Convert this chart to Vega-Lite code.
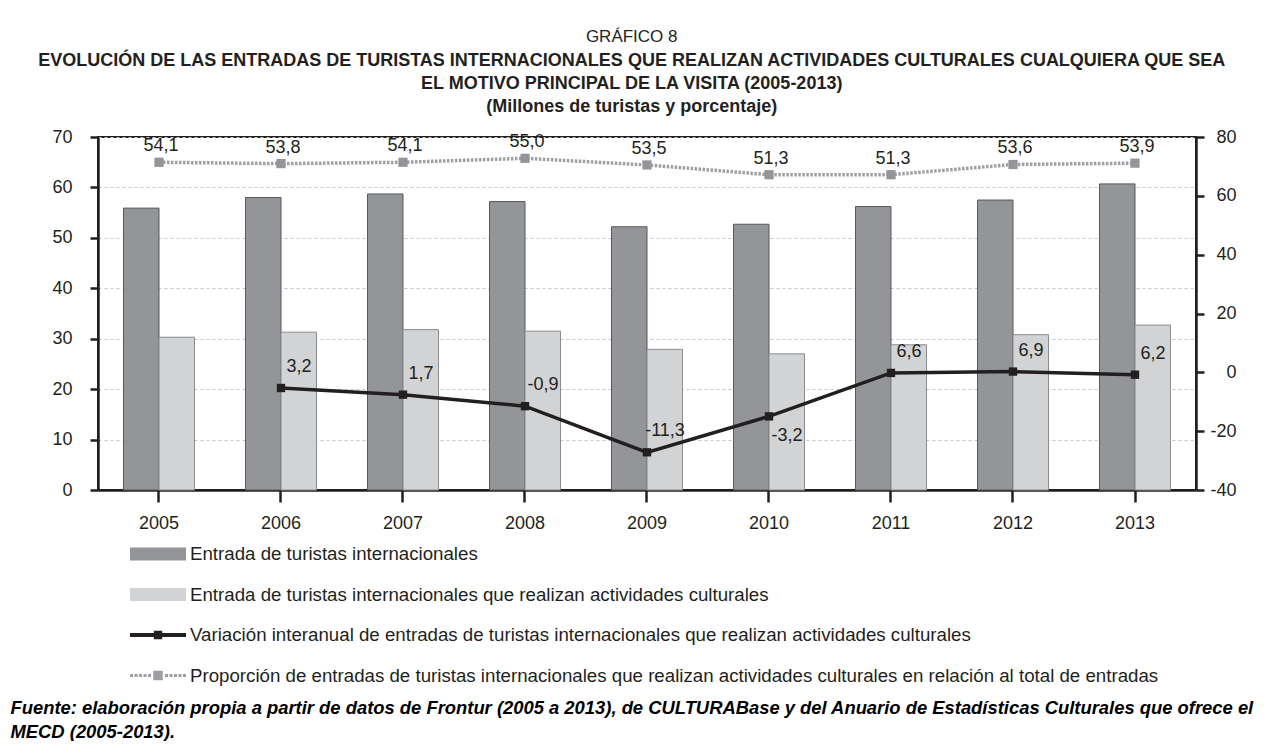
{
  "$schema": "https://vega.github.io/schema/vega-lite/v6.json",
  "width": 1098,
  "height": 353,
  "padding": {"left": 10, "top": 28, "right": 0, "bottom": 0},
  "background": "white",
  "title": {
    "text": "GRÁFICO 8",
    "subtitle": [
      "EVOLUCIÓN DE LAS ENTRADAS DE TURISTAS INTERNACIONALES QUE REALIZAN ACTIVIDADES CULTURALES CUALQUIERA QUE SEA",
      "EL MOTIVO PRINCIPAL DE LA VISITA (2005-2013)",
      "(Millones de turistas y porcentaje)"
    ],
    "anchor": "middle",
    "frame": "bounds",
    "font": "Liberation Sans",
    "fontSize": 17,
    "fontWeight": "normal",
    "color": "#231f20",
    "subtitleFont": "Liberation Sans",
    "subtitleFontSize": 18,
    "subtitleFontWeight": "bold",
    "subtitleColor": "#231f20",
    "subtitleLineHeight": 23,
    "subtitlePadding": 6,
    "offset": 11
  },
  "data": {
    "values": [
      {"anio": "2005", "total": 55.9, "cultural": 30.3, "variacion": null, "proporcion": 54.1},
      {"anio": "2006", "total": 58.0, "cultural": 31.3, "variacion": 3.2, "proporcion": 53.8},
      {"anio": "2007", "total": 58.7, "cultural": 31.8, "variacion": 1.7, "proporcion": 54.1},
      {"anio": "2008", "total": 57.2, "cultural": 31.5, "variacion": -0.9, "proporcion": 55.0},
      {"anio": "2009", "total": 52.2, "cultural": 27.9, "variacion": -11.3, "proporcion": 53.5},
      {"anio": "2010", "total": 52.7, "cultural": 27.0, "variacion": -3.2, "proporcion": 51.3},
      {"anio": "2011", "total": 56.2, "cultural": 28.8, "variacion": 6.6, "proporcion": 51.3},
      {"anio": "2012", "total": 57.5, "cultural": 30.8, "variacion": 6.9, "proporcion": 53.6},
      {"anio": "2013", "total": 60.7, "cultural": 32.7, "variacion": 6.2, "proporcion": 53.9}
    ]
  },
  "encoding": {
    "x": {
      "field": "anio",
      "type": "ordinal",
      "scale": {"paddingInner": 0.418, "paddingOuter": 0.209},
      "axis": {
        "title": [
          "Fuente: elaboración propia a partir de datos de Frontur (2005 a 2013), de CULTURABase y del Anuario de Estadísticas Culturales que ofrece el",
          "MECD (2005-2013)."
        ],
        "labelAngle": 0,
        "labelFontSize": 18,
        "labelPadding": 12,
        "tickSize": 12,
        "titleX": -88,
        "titleY": 208,
        "titleAlign": "left",
        "titleAnchor": "start",
        "titleBaseline": "top",
        "titleFontSize": 18.4,
        "titleFontStyle": "italic",
        "titleFontWeight": "bold",
        "titleLineHeight": 24,
        "titleLimit": 2000
      }
    }
  },
  "layer": [
    {
      "transform": [{"fold": ["total", "cultural"], "as": ["serie", "valor"]}],
      "mark": {"type": "bar", "strokeWidth": 1},
      "encoding": {
        "xOffset": {"field": "serie", "type": "nominal", "scale": {"domain": ["total", "cultural"], "paddingInner": 0, "paddingOuter": 0}},
        "y": {
          "field": "valor",
          "type": "quantitative",
          "scale": {"domain": [0, 70], "nice": false},
          "axis": {
            "orient": "left",
            "title": null,
            "values": [0, 10, 20, 30, 40, 50, 60, 70],
            "tickSize": 8,
            "labelPadding": 18,
            "labelFontSize": 18,
            "grid": true,
            "gridDash": [3, 3],
            "gridColor": "#c4c5c7",
            "gridWidth": 1
          }
        },
        "fill": {
          "field": "serie",
          "type": "nominal",
          "scale": {"domain": ["total", "cultural", "variacion", "proporcion"], "range": ["#939598", "#d1d3d4", "#231f20", "#9d9fa2"]},
          "legend": {
            "orient": "none",
            "legendX": 32,
            "legendY": 389,
            "direction": "vertical",
            "title": null,
            "labelFontSize": 18.7,
            "labelColor": "#231f20",
            "labelFont": "Liberation Sans",
            "labelLimit": 2000,
            "labelOffset": 4,
            "symbolSize": 3136,
            "symbolStrokeWidth": 0,
            "symbolOpacity": 1,
            "rowPadding": 2.5,
            "labelExpr": "datum.value == 'total' ? 'Entrada de turistas internacionales' : datum.value == 'cultural' ? 'Entrada de turistas internacionales que realizan actividades culturales' : datum.value == 'variacion' ? 'Variación interanual de entradas de turistas internacionales que realizan actividades culturales' : 'Proporción de entradas de turistas internacionales que realizan actividades culturales en relación al total de entradas'",
            "encode": {
              "symbols": {
                "update": {
                  "shape": {"signal": "datum.value == 'variacion' ? 'M-1,-0.075H1V0.075H-1Z M-0.15,-0.15H0.15V0.15H-0.15Z' : datum.value == 'proporcion' ? 'M-1,-0.055H-0.89V0.055H-1Z M-0.84,-0.055H-0.73V0.055H-0.84Z M-0.68,-0.055H-0.57V0.055H-0.68Z M-0.52,-0.055H-0.41V0.055H-0.52Z M-0.36,-0.055H-0.25V0.055H-0.36Z M-0.17,-0.17H0.17V0.17H-0.17Z M0.25,-0.055H0.36V0.055H0.25Z M0.41,-0.055H0.52V0.055H0.41Z M0.57,-0.055H0.68V0.055H0.57Z M0.73,-0.055H0.84V0.055H0.73Z M0.89,-0.055H1V0.055H0.89Z' : 'M-1,-0.23H1V0.23H-1Z'"}
                }
              }
            }
          }
        },
        "stroke": {
          "field": "serie",
          "type": "nominal",
          "scale": {"domain": ["total", "cultural"], "range": ["#58595b", "#8a8c8e"]},
          "legend": null
        }
      }
    },
    {
      "mark": {"type": "rule", "opacity": 0},
      "encoding": {
        "y": {
          "datum": 0,
          "type": "quantitative",
          "scale": {"domain": [-40, 80], "nice": false, "zero": false},
          "axis": {
            "orient": "right",
            "title": null,
            "values": [-40, -20, 0, 20, 40, 60, 80],
            "tickSize": 8,
            "labelPadding": 32,
            "labelAlign": "right",
            "labelFontSize": 18,
            "grid": false
          }
        }
      }
    },
    {
      "mark": {"type": "line", "color": "#9d9fa2", "strokeWidth": 3.5, "strokeDash": [2.5, 1.5]},
      "encoding": {
        "y": {"field": "proporcion", "type": "quantitative", "scale": {"domain": [-19.8, 59.8], "nice": false, "zero": false}, "axis": null}
      }
    },
    {
      "mark": {"type": "square", "size": 85, "color": "#939598", "opacity": 1},
      "encoding": {
        "y": {"field": "proporcion", "type": "quantitative", "scale": {"domain": [-19.8, 59.8], "nice": false, "zero": false}, "axis": null}
      }
    },
    {
      "mark": {"type": "text", "fontSize": 18, "color": "#231f20", "dx": 2, "dy": -16},
      "encoding": {
        "y": {"field": "proporcion", "type": "quantitative", "scale": {"domain": [-19.8, 59.8], "nice": false, "zero": false}, "axis": null},
        "text": {"field": "proporcion", "type": "quantitative", "format": ".1f"}
      }
    },
    {
      "mark": {"type": "line", "color": "#231f20", "strokeWidth": 3.5},
      "encoding": {
        "y": {"field": "variacion", "type": "quantitative", "scale": {"domain": [-19.8, 59.8], "nice": false, "zero": false}, "axis": null}
      }
    },
    {
      "mark": {"type": "square", "size": 70, "color": "#231f20", "opacity": 1},
      "encoding": {
        "y": {"field": "variacion", "type": "quantitative", "scale": {"domain": [-19.8, 59.8], "nice": false, "zero": false}, "axis": null}
      }
    },
    {
      "transform": [{"filter": "datum.anio != '2010'"}],
      "mark": {"type": "text", "fontSize": 18, "color": "#231f20", "dx": 18, "dy": -21},
      "encoding": {
        "y": {"field": "variacion", "type": "quantitative", "scale": {"domain": [-19.8, 59.8], "nice": false, "zero": false}, "axis": null},
        "text": {"field": "variacion", "type": "quantitative", "format": ".1f"}
      }
    },
    {
      "transform": [{"filter": "datum.anio == '2010'"}],
      "mark": {"type": "text", "fontSize": 18, "color": "#231f20", "dx": 18, "dy": 20},
      "encoding": {
        "y": {"field": "variacion", "type": "quantitative", "scale": {"domain": [-19.8, 59.8], "nice": false, "zero": false}, "axis": null},
        "text": {"field": "variacion", "type": "quantitative", "format": ".1f"}
      }
    }
  ],
  "resolve": {"scale": {"y": "independent"}},
  "config": {
    "font": "Liberation Sans",
    "locale": {"number": {"decimal": ",", "thousands": ".", "grouping": [3], "currency": ["", " €"], "minus": "-"}},
    "view": {"stroke": "#231f20", "strokeWidth": 2},
    "axis": {
      "domainColor": "#231f20",
      "domainWidth": 2.5,
      "tickColor": "#231f20",
      "tickWidth": 2.5,
      "labelColor": "#231f20",
      "labelFont": "Liberation Sans",
      "titleColor": "#000000",
      "titleFont": "Liberation Sans"
    }
  }
}
